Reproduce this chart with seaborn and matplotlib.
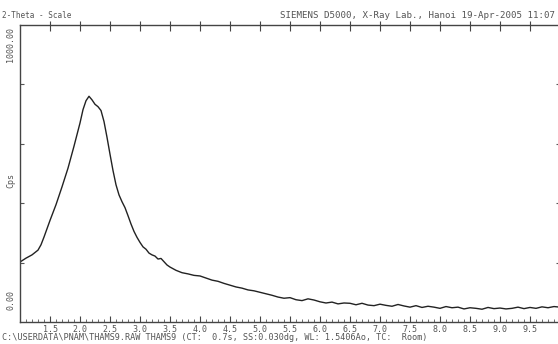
import matplotlib
matplotlib.use("Agg")
import matplotlib.pyplot as plt
import seaborn as sns
import pandas as pd
import numpy as np

two_theta = [1.0, 1.1, 1.2, 1.3, 1.35, 1.4, 1.5, 1.6, 1.7, 1.8, 1.9, 2.0, 2.05, 2.1, 2.15,
             2.2, 2.25, 2.3, 2.35, 2.4, 2.45, 2.5, 2.55, 2.6, 2.65, 2.7, 2.75, 2.8, 2.85,
             2.9, 2.95, 3.0, 3.05, 3.1, 3.15, 3.2, 3.25, 3.3, 3.35, 3.4, 3.45, 3.5, 3.6,
             3.7, 3.8, 3.9, 4.0, 4.1, 4.2, 4.3, 4.4, 4.5, 4.6, 4.7, 4.8, 4.9, 5.0, 5.1,
             5.2, 5.3, 5.4, 5.5, 5.6, 5.7, 5.8, 5.9, 6.0, 6.1, 6.2, 6.3, 6.4, 6.5, 6.6,
             6.7, 6.8, 6.9, 7.0, 7.1, 7.2, 7.3, 7.4, 7.5, 7.6, 7.7, 7.8, 7.9, 8.0, 8.1,
             8.2, 8.3, 8.4, 8.5, 8.6, 8.7, 8.8, 8.9, 9.0, 9.1, 9.2, 9.3, 9.4, 9.5, 9.6,
             9.7, 9.8, 9.9, 10.0]
cps = [202, 215, 226, 242, 260, 286, 342, 395, 455, 518, 592, 670, 715, 745, 760,
       748, 733, 725, 712, 675, 622, 565, 510, 462, 428, 405, 385, 358, 330,
       305, 285, 268, 253, 245, 232, 226, 222, 212, 214, 203, 192, 185, 174,
       166, 162, 157, 155, 148, 141, 137, 130, 124, 118, 114, 108, 105, 100, 95,
       90, 84, 80, 82, 75, 72, 78, 74, 68, 64, 67, 61, 64, 63, 58,
       63, 57, 55, 60, 56, 53, 59, 54, 50, 55, 49, 53, 50, 46, 52,
       48, 50, 44, 48, 46, 43, 49, 45, 47, 44, 46, 50, 45, 49, 46,
       51, 48, 52, 50]
xtick_vals = [1.5, 2.0, 2.5, 3.0, 3.5, 4.0, 4.5, 5.0, 5.5, 6.0, 6.5, 7.0, 7.5, 8.0, 8.5, 9.0, 9.5]
ytick_vals = [200, 400, 600, 800]

df = pd.DataFrame({"two_theta": two_theta, "cps": cps})

sns.set_theme(style="white")
plt.rcParams["font.family"] = ["DejaVu Sans Mono"]

fig = plt.figure(figsize=(5.58, 3.44), dpi=100)
ax = fig.add_axes([20/558, 1-322/344, 540/558, 297/344])
sns.lineplot(data=df, x="two_theta", y="cps", ax=ax, color="#222222", linewidth=1.0)

ax.set_xlim(1.0, 10.0)
ax.set_ylim(0, 1000)
ax.set_xlabel("")
ax.set_ylabel("")
for s in ax.spines.values():
    s.set_color("#444444")
    s.set_linewidth(1.0)

txtc = "#555555"
ax.set_xticks(xtick_vals)
ax.set_xticklabels([f"{v:.1f}" for v in xtick_vals], fontsize=6, color=txtc)
ax.set_xticks(np.arange(1.0, 10.01, 0.1).round(1), minor=True)
ax.tick_params(axis="x", which="major", direction="in", length=4, width=0.8, color="#444444",
               pad=2, top=True, bottom=True)
ax.tick_params(axis="x", which="minor", direction="in", length=2, width=0.6, color="#555555",
               top=False, bottom=True)
ax.set_yticks(ytick_vals)
ax.set_yticklabels([])
ax.tick_params(axis="y", which="major", direction="in", length=3, width=0.8, color="#555555",
               left=True, right=True)

# top ticks cross the axis
sec = ax.secondary_xaxis("top")
sec.set_xticks(xtick_vals)
sec.set_xticklabels([])
sec.tick_params(direction="out", length=3, width=0.8, color="#444444")
sec.spines["top"].set_visible(False)

fig.text(2/558, 1-15/344, "2-Theta - Scale", fontsize=5.5, color=txtc, va="center", ha="left")
fig.text(280/558, 1-15/344, "SIEMENS D5000, X-Ray Lab., Hanoi 19-Apr-2005 11:07",
         fontsize=6.6, color=txtc, va="center", ha="left")
fig.text(2/558, 1-338/344,
         "C:\\USERDATA\\PNAM\\THAMS9.RAW THAMS9 (CT:  0.7s, SS:0.030dg, WL: 1.5406Ao, TC:  Room)",
         fontsize=6.1, color=txtc, va="center", ha="left")
fig.text(11/558, 1-45/344, "1000.00", fontsize=6, color=txtc, rotation=90, va="center", ha="center")
fig.text(11/558, 1-180/344, "Cps", fontsize=6, color=txtc, rotation=90, va="center", ha="center")
fig.text(11/558, 1-300/344, "0.00", fontsize=6, color=txtc, rotation=90, va="center", ha="center")

fig.savefig("out.png", dpi=100)
